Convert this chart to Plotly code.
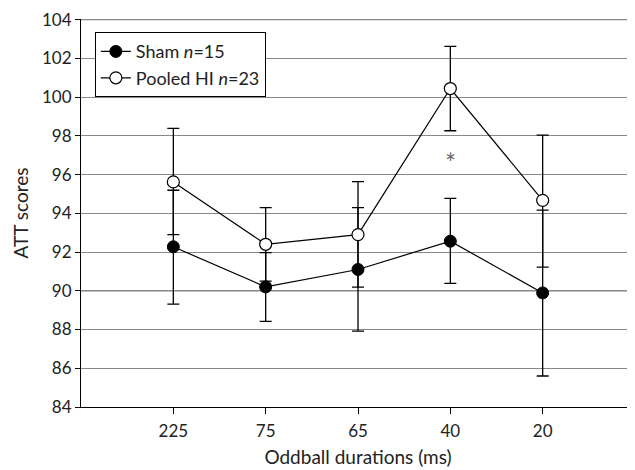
import plotly.graph_objects as go

categories = ["225", "75", "65", "40", "20"]

sham_mean = [92.27, 90.2, 91.1, 92.56, 89.89]
sham_err_plus = [2.92, 1.77, 3.19, 2.21, 4.27]
sham_err_minus = [2.96, 1.78, 3.18, 2.18, 4.29]

hi_mean = [95.62, 92.4, 92.9, 100.44, 94.67]
hi_err_plus = [2.76, 1.89, 2.73, 2.18, 3.37]
hi_err_minus = [2.72, 1.9, 2.71, 2.18, 3.45]

y_ticks = list(range(84, 105, 2))
star_cat = "40"
star_y = 96.84

FONT = "Lato, 'Open Sans', sans-serif"

fig = go.Figure()

fig.add_trace(go.Scatter(
    x=categories, y=sham_mean, mode="lines+markers",
    name="Sham <i>n</i>=15",
    line=dict(color="black", width=1.2),
    marker=dict(symbol="circle", size=12, color="black", line=dict(color="black", width=1)),
    error_y=dict(type="data", array=sham_err_plus, arrayminus=sham_err_minus,
                 color="black", thickness=1.3, width=6),
))
fig.add_trace(go.Scatter(
    x=categories, y=hi_mean, mode="lines+markers",
    name="Pooled HI <i>n</i>=23",
    line=dict(color="black", width=1.2),
    marker=dict(symbol="circle", size=12, color="white", line=dict(color="black", width=1.2)),
    error_y=dict(type="data", array=hi_err_plus, arrayminus=hi_err_minus,
                 color="black", thickness=1.3, width=6),
))

fig.add_shape(type="line", xref="paper", x0=0, x1=1, yref="y", y0=90, y1=90,
              line=dict(color="black", width=1.2), layer="below")
fig.add_shape(type="line", xref="paper", x0=0, x1=1, yref="y", y0=y_ticks[-1], y1=y_ticks[-1],
              line=dict(color="#888", width=1.2), layer="below")

fig.add_annotation(x=categories.index(star_cat), y=star_y, text="*", showarrow=False,
                   yshift=-5, font=dict(size=26, color="#666", family=FONT))

fig.update_layout(
    width=627, height=462,
    margin=dict(l=73, r=0, t=11, b=63),
    paper_bgcolor="white", plot_bgcolor="white",
    font=dict(family=FONT, color="#222", size=18),
    showlegend=True,
    legend=dict(x=0.025, y=0.966, xanchor="left", yanchor="top",
                bordercolor="black", borderwidth=1, bgcolor="white",
                font=dict(size=18, color="#222", family=FONT),
                tracegroupgap=0, itemwidth=30),
    xaxis=dict(type="category", range=[-1, 5], showgrid=False,
               showline=True, linecolor="black", linewidth=1.2,
               ticks="outside", ticklen=6, tickcolor="black",
               ticklabelstandoff=2,
               tickfont=dict(size=17, color="#222"),
               title=dict(text="Oddball durations (ms)", font=dict(size=19, color="#222"), standoff=11)),
    yaxis=dict(range=[84, 104.03], tickvals=y_ticks, showgrid=True,
               gridcolor="#888", gridwidth=1.2,
               showline=True, linecolor="black", linewidth=1.2,
               ticks="outside", ticklen=5, tickcolor="black",
               tickfont=dict(size=17, color="#222"),
               zeroline=False,
               title=dict(text="ATT scores", font=dict(size=19, color="#222"), standoff=8)),
)

fig.write_html("out.html")
